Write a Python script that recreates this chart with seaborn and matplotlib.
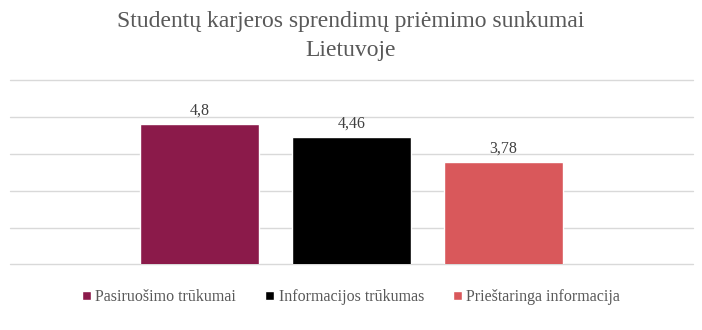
import matplotlib
matplotlib.use("Agg")
import matplotlib.pyplot as plt
import seaborn as sns
import pandas as pd

categories = ["Pasiruošimo trūkumai", "Informacijos trūkumas", "Prieštaringa informacija"]
values = [4.8, 4.46, 3.78]
colors = ["#8B1A4A", "#000000", "#D9585B"]
title = "Studentų karjeros sprendimų priėmimo sunkumai\nLietuvoje"

sns.set_theme(style="white")
plt.rcParams["font.family"] = ["Liberation Serif", "DejaVu Serif"]

df = pd.DataFrame({"kategorija": categories, "reiksme": values})

W, H = 702, 330
fig = plt.figure(figsize=(W / 100, H / 100), dpi=100)
ax = fig.add_axes([10 / W, 1 - 264.3 / H, 683 / W, (264.3 - 80.3) / H])

sns.barplot(data=df, x="kategorija", y="reiksme", hue="kategorija",
            palette=colors, width=0.783, saturation=1, legend=True, ax=ax)

ax.set_ylim(1, 6)
ax.set_xlim(-1.247, 3.247)
ax.set_yticks([1, 2, 3, 4, 5, 6])
ax.yaxis.grid(True, color="#D9D9D9", linewidth=1)
for gl in ax.get_ygridlines():
    gl.set_clip_on(False)
ax.set_axisbelow(True)
ax.tick_params(left=False, bottom=False, labelleft=False, labelbottom=False)
ax.set_xlabel("")
ax.set_ylabel("")
for s in ax.spines.values():
    s.set_visible(False)

for cont in ax.containers:
    ax.bar_label(cont, labels=[f"{v:g}".replace(".", ",") for v in cont.datavalues],
                 padding=4, fontsize=11.5, color="#404040")

ax.legend(loc="center", bbox_to_anchor=(0.5, 1 - 297 / H), bbox_transform=fig.transFigure,
          ncol=3, frameon=False, fontsize=11.5, handlelength=0.55, handleheight=0.55,
          handletextpad=0.3, columnspacing=1.8, labelcolor="#595959")

fig.text(0.5, 1 - 36 / H, title, ha="center", va="center", fontsize=17,
         color="#595959", linespacing=1.45)

fig.savefig("out.png", dpi=100)
